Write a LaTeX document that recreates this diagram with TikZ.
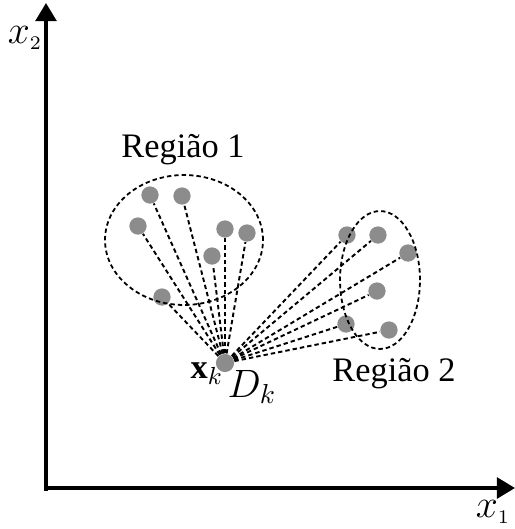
\documentclass[tikz,border=0pt,12pt]{standalone}
\usepackage{fontspec}
\setmainfont{Liberation Serif}
\usetikzlibrary{arrows.meta,shapes.geometric}
\definecolor{ptgray}{HTML}{8C8C8C}

\begin{document}
\begin{tikzpicture}[
    x=0.364pt, y=-0.364pt,
    axis/.style={line width=1.2pt, -{Triangle[length=6.6pt,width=7.6pt]}},
    pt/.style={circle, fill=ptgray, inner sep=0pt, minimum size=6.3pt},
    link/.style={line width=0.7pt, dash pattern=on 1.6pt off 1.1pt},
    region/.style={ellipse, draw, line width=0.65pt,
      dash pattern=on 1.6pt off 1.1pt, inner sep=0pt},
    lbl/.style={font=\fontsize{12.5}{15}\selectfont, inner sep=0pt},
    axlbl/.style={font=\large, inner sep=0pt},
  ]
  \useasboundingbox (0,0) rectangle (515,529);

  % ===== axes =====
  \coordinate (o) at (46,488);
  \coordinate (xend) at (515,488);
  \coordinate (yend) at (46,3);
  \draw[axis] ([yshift=-1pt]o) -- (yend);
  \draw[axis] ([xshift=-0.6pt]o) -- (xend);
  \node[axlbl] (x2) at (25,38) {$x_{\scriptscriptstyle 2}$};
  \node[axlbl] (x1) at (493,512) {$x_{\scriptscriptstyle 1}$};

  % ===== query point =====
  \node[pt, minimum size=6.6pt] (xk) at (225,363) {};
  \node[lbl] (xklbl) at (207,374) {$\mathbf{x}_k$};
  \node[lbl, font=\large] (dk) at (252,387) {$D_k$};

  % ===== region 1 =====
  \foreach \n/\x/\y in {%
      a/150/195, b/182/196, c/138/226, d/225/229,
      e/247/233, f/212/256, g/162/297} {
    \node[pt] (ra\n) at (\x,\y) {};
    \draw[link] (xk) -- (ra\n);
  }
  \node[region, minimum width=57.5pt, minimum height=47.3pt] (reg1) at (184,240) {};
  \node[lbl] (reg1lbl) at (183,150) {Região 1};

  % ===== region 2 =====
  \foreach \n/\x/\y in {%
      a/347/235, b/378/235, c/408/253,
      d/377/291, e/346/324, f/389/330} {
    \node[pt] (rb\n) at (\x,\y) {};
    \draw[link] (xk) -- (rb\n);
  }
  \node[region, minimum width=29.1pt, minimum height=50.2pt] (reg2) at (380,280) {};
  \node[lbl] (reg2lbl) at (394,374) {Região 2};
\end{tikzpicture}
\end{document}
